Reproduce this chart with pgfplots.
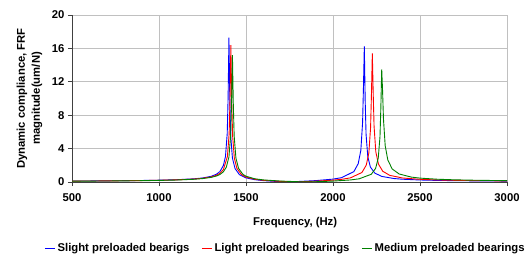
\documentclass[border=0pt]{standalone}
\usepackage{pgfplots}
\pgfplotsset{compat=1.18}
\usepackage{fontspec}
\setmainfont{Liberation Sans}
\definecolor{gridgray}{RGB}{192,192,192}
\definecolor{myblue}{RGB}{0,0,255}
\definecolor{myred}{RGB}{255,0,0}
\definecolor{mygreen}{RGB}{0,128,0}
\begin{document}
\begin{tikzpicture}
\path[use as bounding box] (0,0) rectangle (532bp,256bp);
\begin{axis}[
  at={(72bp,74bp)}, anchor=south west,
  width=435bp, height=167bp, scale only axis,
  xmin=500, xmax=3000, ymin=0, ymax=20,
  xtick={500,1000,...,3000}, ytick={0,4,...,20},
  grid=major, major grid style={gridgray, line width=0.8pt},
  axis x line*=bottom, axis y line*=left,
  axis line style={-, black!75, line width=1pt},
  tick align=outside, major tick length=4bp,
  tick style={black!75, line width=0.8pt},
  font=\bfseries\fontsize{11.3bp}{13bp}\selectfont,
  /pgf/number format/assume math mode=true,
  /pgf/number format/1000 sep={},
  xticklabel shift=4bp,
  xlabel={Frequency, (Hz)},
  xlabel style={at={(axis description cs:0.513,-0.245)}, anchor=center},
  ylabel={Dynamic compliance, FRF\\magnitude(um/N)},
  ylabel style={at={(axis description cs:-0.098,0.5)}, anchor=center, align=center,
    font=\bfseries\fontsize{11.3bp}{15bp}\selectfont},
  legend columns=3,
  legend style={at={(axis description cs:0.491,-0.395)}, anchor=center, draw=none,
    fill=none, font=\bfseries\fontsize{11.3bp}{13bp}\selectfont,
    /tikz/every even column/.append style={column sep=10bp}},
  legend image post style={xscale=0.6},
  every axis plot/.append style={line width=0.9pt},
]
\addplot[myblue] coordinates {(500,0.114)(600,0.125)(700,0.14)(800,0.158)(900,0.182)(1000,0.217)(1100,0.273)(1200,0.379)(1250,0.481)(1300,0.679)(1330,0.927)(1350,1.25)(1370,1.97)(1382,3.05)(1392,5.77)(1397,9.95)(1402,17.3)(1407,9.76)(1412,5.57)(1422,2.86)(1437,1.61)(1462,0.889)(1500,0.494)(1550,0.278)(1600,0.165)(1700,0.034)(1800,0.06)(1900,0.166)(2000,0.344)(2050,0.522)(2120,1.25)(2145,2.2)(2160,3.80)(2170,7.10)(2175,11.32)(2180,16.25)(2185,9.72)(2190,5.70)(2200,3.02)(2215,1.79)(2240,1.07)(2280,0.67)(2350,0.416)(2400,0.333)(2500,0.24)(2600,0.19)(2700,0.16)(2800,0.14)(2900,0.12)(3000,0.11)};
\addlegendentry{Slight preloaded bearigs}
\addplot[myred] coordinates {(500,0.108)(600,0.119)(700,0.132)(800,0.149)(900,0.172)(1000,0.205)(1100,0.257)(1200,0.353)(1250,0.443)(1300,0.61)(1330,0.80)(1350,1.035)(1370,1.48)(1393,3.04)(1403,5.72)(1408,9.77)(1413,16.4)(1418,9.59)(1423,5.54)(1433,2.86)(1448,1.62)(1473,0.903)(1500,0.589)(1550,0.33)(1600,0.204)(1700,0.07)(1800,0.016)(1900,0.101)(2000,0.221)(2050,0.321)(2100,0.492)(2166,1.137)(2191,2.01)(2206,3.47)(2216,6.52)(2221,10.52)(2226,15.4)(2231,10.67)(2236,6.67)(2246,3.62)(2261,2.157)(2286,1.286)(2326,0.796)(2400,0.48)(2500,0.321)(2600,0.245)(2700,0.20)(2800,0.17)(2900,0.148)(3000,0.132)};
\addlegendentry{Light preloaded bearings}
\addplot[mygreen] coordinates {(500,0.099)(600,0.109)(700,0.121)(800,0.137)(900,0.158)(1000,0.189)(1100,0.237)(1200,0.326)(1250,0.407)(1300,0.553)(1330,0.715)(1350,0.897)(1370,1.22)(1387,1.78)(1402,3.01)(1412,5.65)(1417,9.49)(1422,15.2)(1427,9.35)(1432,5.51)(1442,2.87)(1457,1.64)(1482,0.925)(1500,0.692)(1550,0.387)(1600,0.249)(1700,0.113)(1800,0.034)(1900,0.032)(2000,0.11)(2100,0.245)(2150,0.38)(2220,0.925)(2245,1.64)(2260,2.86)(2270,5.41)(2275,8.90)(2280,13.5)(2285,10.87)(2290,7.56)(2300,4.34)(2315,2.64)(2340,1.565)(2380,0.962)(2450,0.587)(2500,0.465)(2600,0.332)(2700,0.261)(2800,0.217)(2900,0.186)(3000,0.163)};
\addlegendentry{Medium preloaded bearings}
\end{axis}
\end{tikzpicture}
\end{document}
